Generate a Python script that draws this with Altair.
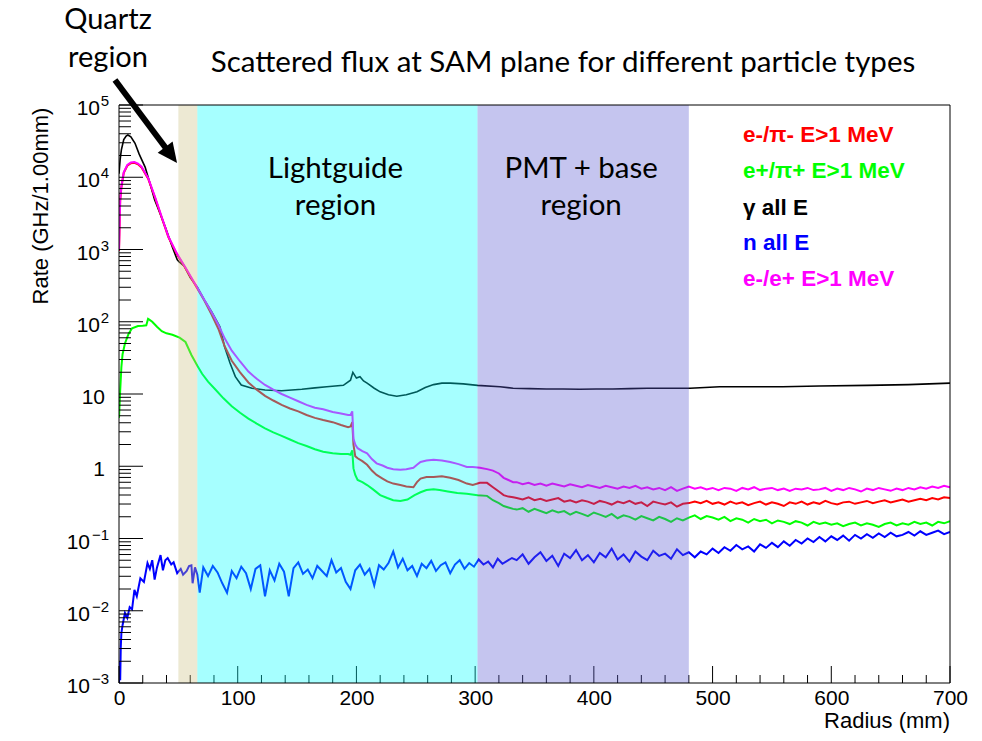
import altair as alt
import pandas as pd

# ---------------- values ----------------
# radius in mm, curve height as log10(rate in GHz/1.00mm)

# gamma, all E (black)
gamma_r = [0, 1, 2, 4, 6, 7.5, 10, 13.5, 17, 22, 26, 30, 35, 39, 45, 49, 50.5, 55, 60, 66,
           72, 78, 85, 89, 93.5, 98, 103, 112, 123, 137, 154, 165, 175, 189, 195, 197, 200, 203, 206, 209,
           215, 220, 227, 234, 242, 251, 258, 265, 272, 279, 290, 302, 321, 332, 346, 360, 374, 388, 402, 416,
           430, 445, 460, 481, 506, 530, 559, 590, 630, 665, 700]
gamma_log = [4.05, 4.25, 4.38, 4.52, 4.57, 4.585, 4.56, 4.47, 4.32, 4.14, 3.92, 3.69, 3.48, 3.31, 3.03, 2.86, 2.83, 2.77, 2.61, 2.48,
             2.30, 2.14, 1.93, 1.65, 1.43, 1.24, 1.125, 1.08, 1.055, 1.045, 1.065, 1.085, 1.10, 1.12, 1.19, 1.30, 1.22, 1.24, 1.18, 1.15,
             1.08, 1.03, 0.99, 0.97, 0.99, 1.03, 1.09, 1.13, 1.15, 1.15, 1.14, 1.12, 1.10, 1.08, 1.075, 1.07, 1.07, 1.065, 1.07, 1.07,
             1.075, 1.08, 1.08, 1.08, 1.10, 1.10, 1.10, 1.11, 1.12, 1.13, 1.15]

# radius grid of the charged-particle curves up to 332 mm
mix_r = [0, 0.5, 1, 2, 4, 7, 10, 13, 16, 19, 24.7, 30.3, 36, 41.6, 48.6, 55.6, 65.5, 72, 78, 84,
         89, 95, 102, 109, 116, 123, 130, 137, 144, 151, 158, 165, 172, 180, 187, 193, 195, 196.5, 197.5, 199,
         201, 205, 209, 213, 217, 222, 226, 231, 237, 242, 248, 251, 254, 259, 265, 272, 279, 286, 293, 298,
         304, 310, 315, 320, 324, 328, 332]
# e-/e+ E>1 MeV (magenta)
ee_log = [2.99, 3.35, 3.69, 3.87, 4.07, 4.17, 4.205, 4.21, 4.19, 4.146, 3.985, 3.73, 3.45, 3.18, 2.95, 2.76, 2.485, 2.30, 2.13, 1.95,
          1.77, 1.60, 1.45, 1.31, 1.21, 1.125, 1.06, 1.00, 0.95, 0.90, 0.85, 0.81, 0.79, 0.75, 0.73, 0.71, 0.71, 0.76, 0.38, 0.30,
          0.25, 0.21, 0.18, 0.10, 0.04, 0.01, -0.02, -0.04, -0.05, -0.04, -0.02, 0.02, 0.06, 0.08, 0.09, 0.08, 0.06, 0.03, -0.01, -0.01,
          -0.02, -0.04, -0.06, -0.10, -0.16, -0.19, -0.22]
# e-/pi- E>1 MeV (red)
em_log = [2.98, 3.34, 3.68, 3.86, 4.06, 4.16, 4.195, 4.20, 4.18, 4.136, 3.975, 3.72, 3.44, 3.17, 2.94, 2.75, 2.475, 2.29, 2.10, 1.89,
          1.66, 1.46, 1.30, 1.16, 1.06, 0.975, 0.91, 0.85, 0.80, 0.76, 0.71, 0.67, 0.64, 0.61, 0.57, 0.54, 0.55, 0.61, 0.30, 0.14,
          0.11, 0.07, 0.02, -0.06, -0.12, -0.17, -0.21, -0.24, -0.26, -0.28, -0.29, -0.22, -0.17, -0.15, -0.15, -0.14, -0.16, -0.19, -0.24, -0.26,
          -0.23, -0.23, -0.29, -0.35, -0.40, -0.42, -0.43]

# e+/pi+ E>1 MeV (green)
ep_r = [0, 0.5, 1, 2, 3, 5, 8, 11, 16, 20, 23, 24.5, 25.5, 28, 32, 36, 40, 45, 51, 56,
        61, 66, 70, 75, 81, 88, 95, 102, 109, 116, 123, 130, 137, 144, 151, 158, 165, 172, 180, 187,
        193, 195, 196.5, 197.5, 199, 201, 205, 209, 214, 220, 226, 231, 237, 243, 249, 254, 259, 265, 270, 277,
        285, 293, 302, 310, 315, 320, 324, 328, 332]
ep_log = [0.67, 0.85, 1.05, 1.37, 1.55, 1.70, 1.83, 1.91, 1.94, 1.945, 1.95, 2.04, 2.03, 2.00, 1.93, 1.87, 1.84, 1.82, 1.78, 1.72,
          1.54, 1.39, 1.28, 1.17, 1.065, 0.94, 0.83, 0.74, 0.66, 0.59, 0.525, 0.47, 0.42, 0.37, 0.32, 0.28, 0.235, 0.20, 0.18, 0.17,
          0.17, 0.16, 0.22, -0.03, -0.12, -0.19, -0.22, -0.26, -0.32, -0.40, -0.44, -0.47, -0.48, -0.46, -0.40, -0.36, -0.33, -0.32, -0.33, -0.35,
          -0.37, -0.38, -0.40, -0.41, -0.47, -0.51, -0.55, -0.57, -0.59]

# shared radius grid of the noisy tails, 335-700 mm
tail_r = [335, 340, 345, 350, 355, 360, 365, 370, 375, 380, 385, 390, 395, 400, 405, 410, 415, 420, 425, 430,
          435, 440, 445, 450, 455, 460, 465, 470, 475, 480, 485, 490, 495, 500, 505, 510, 515, 520, 525, 530,
          535, 540, 545, 550, 555, 560, 565, 570, 575, 580, 585, 590, 595, 600, 605, 610, 615, 620, 625, 630,
          635, 640, 645, 650, 655, 660, 665, 670, 675, 680, 685, 690, 695, 700]
ee_tail = [-0.22, -0.25, -0.23, -0.26, -0.24, -0.27, -0.24, -0.26, -0.28, -0.25,
           -0.27, -0.29, -0.26, -0.28, -0.30, -0.27, -0.29, -0.31, -0.28, -0.30,
           -0.27, -0.31, -0.29, -0.32, -0.30, -0.33, -0.29, -0.34, -0.31, -0.28,
           -0.31, -0.29, -0.32, -0.30, -0.33, -0.30, -0.31, -0.34, -0.30, -0.32,
           -0.29, -0.33, -0.31, -0.30, -0.33, -0.31, -0.34, -0.31, -0.32, -0.30,
           -0.33, -0.32, -0.30, -0.34, -0.31, -0.33, -0.30, -0.32, -0.35, -0.31,
           -0.33, -0.30, -0.32, -0.34, -0.31, -0.33, -0.30, -0.32, -0.29, -0.31,
           -0.28, -0.30, -0.27, -0.29]
em_tail = [-0.44, -0.46, -0.43, -0.47, -0.45, -0.48, -0.46, -0.44, -0.49, -0.47,
           -0.50, -0.47, -0.49, -0.52, -0.48, -0.50, -0.53, -0.49, -0.51, -0.48,
           -0.52, -0.50, -0.55, -0.49, -0.51, -0.53, -0.50, -0.56, -0.52, -0.51,
           -0.49, -0.51, -0.48, -0.52, -0.50, -0.53, -0.49, -0.52, -0.50, -0.54,
           -0.51, -0.49, -0.53, -0.50, -0.52, -0.55, -0.50, -0.52, -0.49, -0.53,
           -0.50, -0.52, -0.48, -0.51, -0.53, -0.50, -0.49, -0.52, -0.50, -0.48,
           -0.51, -0.49, -0.47, -0.50, -0.48, -0.46, -0.49, -0.47, -0.45, -0.47,
           -0.44, -0.46, -0.43, -0.44]
ep_tail = [-0.60, -0.58, -0.63, -0.59, -0.62, -0.65, -0.61, -0.64, -0.62, -0.67,
           -0.63, -0.66, -0.69, -0.64, -0.67, -0.70, -0.66, -0.72, -0.68, -0.70,
           -0.74, -0.69, -0.72, -0.75, -0.70, -0.73, -0.77, -0.72, -0.75, -0.71,
           -0.68, -0.73, -0.69, -0.71, -0.74, -0.70, -0.76, -0.72, -0.74, -0.78,
           -0.73, -0.76, -0.74, -0.79, -0.75, -0.77, -0.80, -0.76, -0.78, -0.82,
           -0.77, -0.80, -0.78, -0.81, -0.79, -0.83, -0.80, -0.78, -0.82, -0.79,
           -0.81, -0.84, -0.80, -0.78, -0.82, -0.79, -0.81, -0.77, -0.80, -0.78,
           -0.82, -0.77, -0.79, -0.76]

# neutrons, all E (blue)
n_head_r = [0, 0.5, 1, 1.5, 2, 3, 5, 7, 9, 11, 13, 15, 18, 21, 24, 26, 28, 30, 32, 35,
            37, 39, 41, 44, 46, 49, 52, 54, 57, 59, 61, 62, 64, 66, 68]
n_head = [-3.0, -2.7, -2.96, -2.5, -2.31, -2.2, -2.03, -2.1, -1.95, -1.98, -1.71, -1.80, -1.55, -1.60, -1.34, -1.42, -1.30, -1.57, -1.40, -1.23,
          -1.44, -1.30, -1.27, -1.36, -1.33, -1.48, -1.42, -1.50, -1.45, -1.38, -1.37, -1.62, -1.40, -1.50, -1.75]
n_mid_r = [71, 75, 79, 83, 87, 91, 95, 99, 103, 107, 111, 115, 119, 123, 127, 131, 135, 139, 143, 147,
           151, 155, 159, 163, 167, 171, 175, 179, 183, 187, 191, 195, 199, 203, 207, 211, 215, 219, 223, 227,
           231, 235, 239, 243, 247, 251, 255, 259, 263, 267, 271, 275, 279, 283, 287, 291, 295, 299, 303, 307,
           311, 315, 319, 323, 327, 331]
n_mid = [-1.40, -1.52, -1.38, -1.47, -1.62, -1.75, -1.45, -1.55, -1.39, -1.48,
         -1.70, -1.42, -1.37, -1.80, -1.44, -1.58, -1.35, -1.46, -1.80, -1.41,
         -1.33, -1.49, -1.43, -1.55, -1.38, -1.45, -1.52, -1.30, -1.47, -1.41,
         -1.60, -1.70, -1.44, -1.36, -1.50, -1.42, -1.65, -1.37, -1.43, -1.34,
         -1.18, -1.40, -1.28, -1.44, -1.38, -1.52, -1.35, -1.41, -1.31, -1.45,
         -1.37, -1.33, -1.48, -1.36, -1.30, -1.42, -1.34, -1.39, -1.29, -1.36,
         -1.32, -1.40, -1.28, -1.35, -1.31, -1.27]
n_tail = [-1.30, -1.22, -1.35, -1.26, -1.19, -1.31, -1.24, -1.38, -1.21, -1.27,
          -1.16, -1.30, -1.23, -1.33, -1.20, -1.26, -1.14, -1.29, -1.22, -1.32,
          -1.18, -1.25, -1.30, -1.17, -1.24, -1.21, -1.28, -1.15, -1.23, -1.19,
          -1.26, -1.18, -1.22, -1.14, -1.20, -1.12, -1.17, -1.09, -1.15, -1.11,
          -1.18, -1.08, -1.13, -1.06, -1.12, -1.04, -1.10, -1.02, -1.07, -1.00,
          -1.05, -0.98, -1.04, -0.97, -1.02, -0.96, -1.03, -0.95, -1.00, -0.94,
          -0.99, -0.93, -0.98, -0.92, -0.97, -0.95, -0.91, -0.96, -0.90, -0.95,
          -0.92, -0.89, -0.94, -0.91]

# legend
legend_labels = ["e-/π- E>1 MeV", "e+/π+ E>1 MeV", "γ all E", "n all E", "e-/e+ E>1 MeV"]
legend_colors = ["#FF0000", "#00FF00", "#000000", "#0000FF", "#FF00FF"]

# shaded detector regions (mm)
region_names = ["Quartz", "Lightguide", "PMT + base"]
region_start = [50, 66, 302]
region_end = [66, 302, 480]
region_fill = ["#CBC081", "#00FFFF", "#5959D1"]
inner_label_1 = ["", "Lightguide", "PMT + base"]
inner_label_2 = ["", "region", "region"]

# arrow pointing at the quartz region (data coordinates)
arrow_r = [-3.4, 40.8]
arrow_rate = [10 ** 5.346, 10 ** 4.374]
arrow_tip_r = [48.9]
arrow_tip_rate = [10 ** 4.197]

x_ticks_major = [0, 100, 200, 300, 400, 500, 600, 700]
y_exponents = [-3, -2, -1, 0, 1, 2, 3, 4, 5]

# ---------------- chart ----------------
W, H = 831, 578
FONT = "Liberation Sans"
TFONT = "Lato"

xscale = alt.Scale(domain=[0, 700], nice=False, zero=False)
yscale = alt.Scale(type="log", domain=[1e-3, 1e5], nice=False)
xaxis = alt.Axis(values=x_ticks_major, ticks=False, domain=False, grid=False, title=None,
                 labelFont=FONT, labelFontSize=21, labelPadding=4, labelColor="black",
                 labelFlush=False, labelOverlap=False)


def X(field):
    return alt.X(field, type="quantitative", scale=xscale, axis=xaxis)


def Y(field):
    return alt.Y(field, type="quantitative", scale=yscale, axis=None)


def frame(r, lg):
    return pd.DataFrame({"radius": r, "rate": [10.0 ** v for v in lg]})


df_gamma = frame(gamma_r, gamma_log)
df_ee = frame(mix_r + tail_r, ee_log + ee_tail)
df_em = frame(mix_r + tail_r, em_log + em_tail)
df_ep = frame(ep_r + tail_r, ep_log + ep_tail)
df_n = frame(n_head_r + n_mid_r + tail_r, n_head + n_mid + n_tail)


def line(df, color, width):
    return alt.Chart(df).mark_line(color=color, strokeWidth=width, clip=True).encode(
        x=X("radius"), y=Y("rate"))


lines = [
    line(df_gamma, legend_colors[2], 1.6),
    line(df_em, legend_colors[0], 2),
    line(df_ep, legend_colors[1], 2),
    line(df_n, legend_colors[3], 2),
    line(df_ee, legend_colors[4], 2),
]

# inward ticks, ROOT style
ymaj = pd.DataFrame({"v": [10.0 ** e for e in y_exponents]})
ymin = pd.DataFrame({"v": [m * 10.0 ** e for e in y_exponents[:-1] for m in range(2, 10)]})
xmaj = pd.DataFrame({"v": x_ticks_major})
xmin = pd.DataFrame({"v": [v for v in range(0, 701, 20) if v % 100 != 0]})

ticks = [
    alt.Chart(ymaj).mark_rule(color="black", strokeWidth=1).encode(
        y=Y("v"), x=alt.value(0), x2=alt.value(24)),
    alt.Chart(ymin).mark_rule(color="black", strokeWidth=1).encode(
        y=Y("v"), x=alt.value(0), x2=alt.value(12)),
    alt.Chart(xmaj).mark_rule(color="black", strokeWidth=1).encode(
        x=X("v"), y=alt.value(H), y2=alt.value(H - 17)),
    alt.Chart(xmin).mark_rule(color="black", strokeWidth=1).encode(
        x=X("v"), y=alt.value(H), y2=alt.value(H - 8)),
]

regions = pd.DataFrame({"name": region_names, "start": region_start, "end": region_end,
                        "fill": region_fill, "l1": inner_label_1, "l2": inner_label_2})

overlay = alt.Chart(regions).mark_rect(opacity=0.35).encode(
    x=X("start"), x2="end", y=alt.value(0), y2=alt.value(H),
    color=alt.Color("fill:N", scale=None))

border = alt.Chart(pd.DataFrame({"a": [0]})).mark_rect(
    fill="transparent", stroke="black", strokeWidth=1).encode(
    x=alt.value(0), x2=alt.value(W), y=alt.value(0), y2=alt.value(H))

region_text = regions[regions["l1"] != ""]
inner1 = alt.Chart(region_text).transform_calculate(mid="(datum.start + datum.end) / 2").mark_text(
    font=TFONT, fontSize=29.5, color="black", align="center", baseline="alphabetic", dx=-2).encode(
    x=X("mid"), y=alt.value(73), text="l1:N")
inner2 = alt.Chart(region_text).transform_calculate(mid="(datum.start + datum.end) / 2").mark_text(
    font=TFONT, fontSize=29.5, color="black", align="center", baseline="alphabetic", dx=-2).encode(
    x=X("mid"), y=alt.value(110), text="l2:N")


def label(text, x, y, size, font=TFONT, align="center", baseline="alphabetic", **kw):
    return alt.Chart(pd.DataFrame({"t": [text]})).mark_text(
        x=x, y=y, fontSize=size, font=font, align=align, baseline=baseline, color=kw.pop("color", "black"), **kw
    ).encode(text="t:N")


texts = [
    label("Scattered flux at SAM plane for different particle types", 444, -33, 29.5),
    label("Quartz", -11, -76, 29),
    label("region", -11, -38, 29),
    label("Radius (mm)", W, 623, 22, font=FONT, align="right"),
    label("Rate (GHz/1.00mm)", -78, 101, 22, font=FONT, baseline="middle", angle=270),
]

leg_y = [37, 73, 110, 145, 181]
legend = [label(t, 624, y, 22.5, font=FONT, align="left", fontWeight="bold", color=c)
          for t, c, y in zip(legend_labels, legend_colors, leg_y)]

# y tick labels 10^n
ylab = pd.DataFrame({"exp": y_exponents})
ylab["v"] = [10.0 ** e for e in y_exponents]
ylab["base"] = ["1" if e == 0 else "10" for e in y_exponents]
ylab["sup"] = ["" if e in (0, 1) else str(e).replace("-", "\u2212") for e in y_exponents]
ylab["n"] = [len(s) for s in ylab["sup"]]


def ylabel_layer(n, xpos):
    return alt.Chart(ylab).transform_filter(f"datum.n == {n}").mark_text(
        font=FONT, fontSize=21, align="right", baseline="middle", dy=4, color="black").encode(
        y=Y("v"), x=alt.value(xpos), text="base:N")


ylabels = [
    ylabel_layer(0, -14),
    ylabel_layer(1, -19),
    ylabel_layer(2, -29),
    alt.Chart(ylab).transform_filter("datum.n > 0").mark_text(
        font=FONT, fontSize=15, align="right", baseline="middle", dy=-4, color="black").encode(
        y=Y("v"), x=alt.value(-10), text="sup:N"),
]

arrow_line = alt.Chart(pd.DataFrame({"radius": arrow_r, "rate": arrow_rate})).mark_line(
    color="black", strokeWidth=6, clip=False).encode(x=X("radius"), y=Y("rate"))
arrow_head = alt.Chart(pd.DataFrame({"radius": arrow_tip_r, "rate": arrow_tip_rate})).mark_point(
    shape="M0,0L-0.85,1.8L0.85,1.8Z", filled=True, color="black", opacity=1, size=484,
    angle=143, clip=False).encode(x=X("radius"), y=Y("rate"))

chart = alt.layer(
    *lines, *ticks, overlay, border, inner1, inner2, *texts, *legend, *ylabels, arrow_line, arrow_head
).properties(
    width=W, height=H,
    padding={"left": 119, "top": 105, "right": 32, "bottom": 58},
    autosize=alt.AutoSizeParams(type="none"),
    background="white",
).configure_view(stroke=None)

chart.save("out.html", embed_options={"renderer": "svg", "actions": False})
